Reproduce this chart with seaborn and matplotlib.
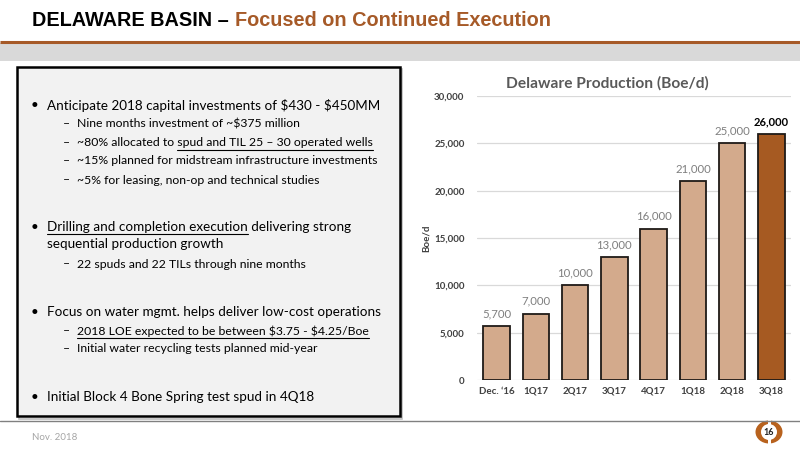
import matplotlib
matplotlib.use("Agg")
import matplotlib.pyplot as plt
from matplotlib.patches import Rectangle, Ellipse, Circle
import pandas as pd
import seaborn as sns

# chart data
quarters = ["Dec. \u201816", "1Q17", "2Q17", "3Q17", "4Q17", "1Q18", "2Q18", "3Q18"]
production = [5700, 7000, 10000, 13000, 16000, 21000, 25000, 26000]
bar_colors = ["#D3AA8C"] * 7 + ["#A65A22"]
y_ticks = [0, 5000, 10000, 15000, 20000, 25000, 30000]

# slide text: (level, y, parts) with parts = [(text, underlined)]
bullets = [
    (0, 105, [("Anticipate 2018 capital investments of \\$430 - \\$450MM", False)]),
    (1, 124, [("Nine months investment of ~\\$375 million", False)]),
    (1, 143, [("~80% allocated to ", False), ("spud and TIL 25 \u2013 30 operated wells", True)]),
    (1, 161, [("~15% planned for midstream infrastructure investments", False)]),
    (1, 180, [("~5% for leasing, non-op and technical studies", False)]),
    (0, 227, [("Drilling and completion execution", True), (" delivering strong", False)]),
    (2, 244, [("sequential production growth", False)]),
    (1, 264, [("22 spuds and 22 TILs through nine months", False)]),
    (0, 312, [("Focus on water mgmt. helps deliver low-cost operations", False)]),
    (1, 331, [("2018 LOE expected to be between \\$3.75 - \\$4.25/Boe", True)]),
    (1, 349, [("Initial water recycling tests planned mid-year", False)]),
    (0, 397, [("Initial Block 4 Bone Spring test spud in 4Q18", False)]),
]

sns.set_theme(style="white")
plt.rcParams["font.family"] = ["Lato", "DejaVu Sans"]

fig = plt.figure(figsize=(8, 4.5), dpi=100)
fig.patch.set_facecolor("white")

# background axes in pixel coordinates
bg = fig.add_axes([0, 0, 1, 1])
bg.set_xlim(0, 800)
bg.set_ylim(450, 0)
bg.axis("off")

orange = "#A65A28"
title_font = ["Liberation Sans Narrow", "Liberation Sans"]
t1 = bg.text(32, 21, "DELAWARE BASIN \u2013", fontsize=14.3, fontweight="bold",
             family=title_font, va="center", color="black")
fig.canvas.draw()
renderer = fig.canvas.get_renderer()
bb = t1.get_window_extent(renderer)
bg.text(bb.x1 + 6, 21, "Focused on Continued Execution", fontsize=14.3, fontweight="bold",
        family=title_font, va="center", color=orange)

bg.plot([0, 800], [41.5, 41.5], color=orange, lw=2.2, solid_capstyle="butt")
bg.add_patch(Rectangle((0, 43), 800, 18, facecolor="#D9D9D9", edgecolor="none"))

# text box with shadow
bg.add_patch(Rectangle((19, 69), 383, 350, facecolor="none", edgecolor="#BFBFBF", lw=1.2))
bg.add_patch(Rectangle((17, 67), 383, 349, facecolor="#F2F2F2", edgecolor="black", lw=1.8))


def width_of(s, size):
    t = bg.text(0, 0, s, fontsize=size)
    w = t.get_window_extent(renderer).width
    t.remove()
    return w


for level, y, parts in bullets:
    size = 9.7 if level in (0, 2) else 8.8
    x0 = 47 if level in (0, 2) else 77
    if level == 0:
        bg.text(31, y, "\u2022", fontsize=size, va="center", color="black")
    elif level == 1:
        bg.text(63, y, "\u2013", fontsize=size, va="center", color="black")
    full = "".join(p for p, _ in parts)
    bg.text(x0, y, full, fontsize=size, va="center", color="black")
    prefix = ""
    for p, under in parts:
        if under:
            end = x0 + width_of(prefix + p, size)
            start = end - width_of(p, size)
            uy = y + (7 if size > 9.5 else 6.5)
            bg.plot([start, end], [uy, uy], color="black", lw=0.8)
        prefix += p

# footer
bg.plot([0, 800], [420.5, 420.5], color="#808080", lw=1)
bg.text(32, 437, "Nov. 2018", fontsize=7, color="#A6A6A6", va="center")
bg.add_patch(Ellipse((769, 432), 27, 23, facecolor="#B8621E", edgecolor="none"))
bg.add_patch(Rectangle((767.5, 419), 3, 26, facecolor="white", edgecolor="none"))
bg.add_patch(Circle((769, 432), 8, facecolor="white", edgecolor="none"))
bg.text(769, 432.5, "16", fontsize=6.5, fontweight="bold", ha="center", va="center", color="#222222")

# chart
ax = fig.add_axes([477 / 800, 1 - 380 / 450, (791 - 477) / 800, (380 - 96) / 450])
ax.set_facecolor("none")
df = pd.DataFrame({"quarter": quarters, "boed": production})
sns.barplot(data=df, x="quarter", y="boed", hue="quarter", palette=bar_colors,
            saturation=1, legend=False, width=0.67, edgecolor="#1F1A17",
            linewidth=1.3, ax=ax, zorder=3)

for i, cont in enumerate(ax.containers):
    last = i == len(ax.containers) - 1
    ax.bar_label(cont, labels=[f"{production[i]:,}"], padding=5,
                 fontsize=8.2 if not last else 8,
                 fontweight="bold" if last else "normal",
                 color="black" if last else "#7F7F7F")

ax.set_ylim(0, 30000)
ax.set_xlim(-0.5, 7.5)
ax.set_yticks(y_ticks)
ax.set_yticklabels([f"{v:,}" for v in y_ticks])
ax.yaxis.grid(True, color="#D9D9D9", lw=0.9, zorder=0)
ax.set_axisbelow(True)
for s in ax.spines.values():
    s.set_visible(False)
ax.tick_params(axis="both", length=0, labelsize=7, labelcolor="#404040")
ax.tick_params(axis="y", pad=9)
ax.tick_params(axis="x", pad=5)
for lab in ax.get_xticklabels() + ax.get_yticklabels():
    lab.set_fontweight("bold")
ax.set_xlabel("")
ax.set_ylabel("Boe/d", fontsize=7, fontweight="bold", color="#404040", labelpad=2)
ax.set_title("Delaware Production (Boe/d)", fontsize=11.2, fontweight="bold",
             color="#595959", pad=6, x=0.415)

fig.savefig("out.png", dpi=100)
